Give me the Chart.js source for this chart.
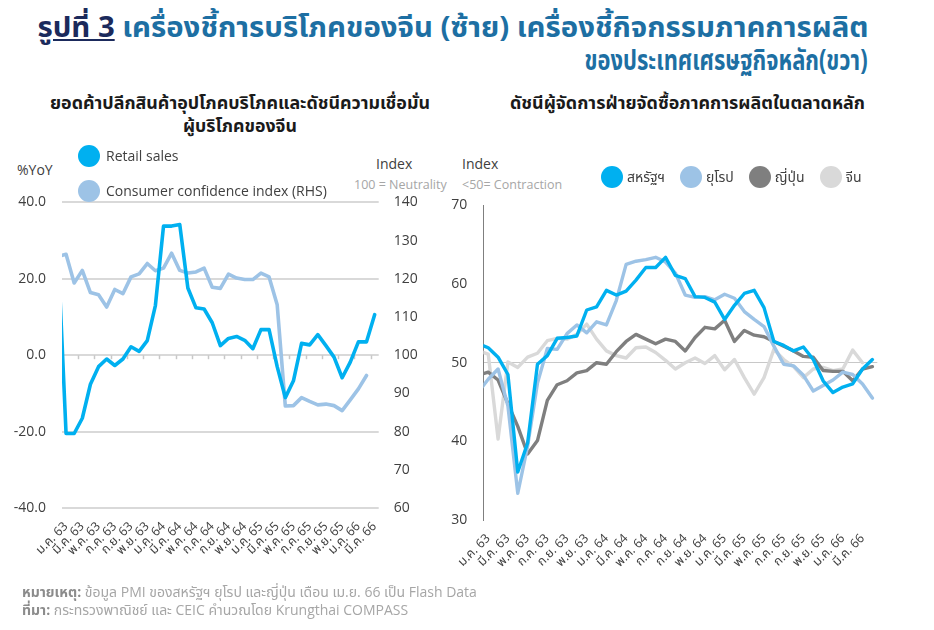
<!DOCTYPE html>
<html><head><meta charset="utf-8">
<script src="https://cdn.jsdelivr.net/npm/chart.js@4.4.1/dist/chart.umd.min.js"></script>
<style>
html,body{margin:0;padding:0;background:#fff;}
body{width:934px;height:630px;position:relative;overflow:hidden;font-family:"Open Sans","Noto Sans Thai","Noto Sans",sans-serif;color:#404040;}
.abs{position:absolute;white-space:nowrap;line-height:1.2;}
.ttl{font-weight:bold;font-size:28px;color:#1d6fa3;}
.sub{font-weight:bold;font-size:17px;color:#1a1a1a;}
.lbl{font-size:14px;color:#404040;}
.note{font-size:12.5px;color:#a6a6a6;}
.dot{display:inline-block;width:22px;height:22px;border-radius:50%;vertical-align:middle;}
.leg{font-size:14px;color:#404040;display:flex;align-items:center;}
.foot{font-size:14px;color:#a6a6a6;}
.foot b{color:#8c8c8c;}
canvas{position:absolute;}
</style></head><body>
<div id="t1" class="abs ttl" style="right:66px;top:10px;"><span style="color:#1b2a5c;text-decoration:underline;">รูปที่ 3</span> เครื่องชี้การบริโภคของจีน (ซ้าย) เครื่องชี้กิจกรรมภาคการผลิต</div>
<div id="t2" class="abs ttl" style="right:66px;top:43px;">ของประเทศเศรษฐกิจหลัก(ขวา)</div>
<div id="s1" class="abs sub" style="left:50px;top:93px;">ยอดค้าปลีกสินค้าอุปโภคบริโภคและดัชนีความเชื่อมั่น</div>
<div id="s2" class="abs sub" style="left:183px;top:116px;">ผู้บริโภคของจีน</div>
<div id="s3" class="abs sub" style="left:510px;top:93px;">ดัชนีผู้จัดการฝ่ายจัดซื้อภาคการผลิตในตลาดหลัก</div>

<div class="abs lbl" style="left:17px;top:162px;">%YoY</div>
<div class="abs lbl" style="left:376px;top:156px;">Index</div>
<div class="abs note" style="left:354px;top:177px;">100 = Neutrality</div>
<div class="abs lbl" style="left:462px;top:156px;">Index</div>
<div class="abs note" style="left:462px;top:177px;">&lt;50= Contraction</div>

<canvas id="c1" width="460" height="412" style="left:0;top:178px;"></canvas>
<canvas id="c2" width="494" height="409" style="left:440px;top:181px;"></canvas>

<div id="legL" class="abs" style="left:78px;top:145px;"></div>
<div id="legR" class="abs" style="left:601px;top:166px;display:flex;"></div>

<div id="f1" class="abs foot" style="left:22px;top:584px;"><b>หมายเหตุ:</b> ข้อมูล PMI ของสหรัฐฯ ยุโรป และญี่ปุ่น เดือน เม.ย. 66 เป็น Flash Data</div>
<div id="f2" class="abs foot" style="left:22px;top:602px;"><b>ที่มา:</b> กระทรวงพาณิชย์ และ CEIC คำนวณโดย Krungthai COMPASS</div>

<script>
// ---- categories (Dec 2019 .. Apr 2023); Dec 2019 lies just outside the visible axis range
const months = [
  'ธ.ค. 62',
  'ม.ค. 63','ก.พ. 63','มี.ค. 63','เม.ย. 63','พ.ค. 63','มิ.ย. 63','ก.ค. 63','ส.ค. 63','ก.ย. 63','ต.ค. 63','พ.ย. 63','ธ.ค. 63',
  'ม.ค. 64','ก.พ. 64','มี.ค. 64','เม.ย. 64','พ.ค. 64','มิ.ย. 64','ก.ค. 64','ส.ค. 64','ก.ย. 64','ต.ค. 64','พ.ย. 64','ธ.ค. 64',
  'ม.ค. 65','ก.พ. 65','มี.ค. 65','เม.ย. 65','พ.ค. 65','มิ.ย. 65','ก.ค. 65','ส.ค. 65','ก.ย. 65','ต.ค. 65','พ.ย. 65','ธ.ค. 65',
  'ม.ค. 66','ก.พ. 66','มี.ค. 66','เม.ย. 66'
];
const firstShown = 'ม.ค. 63';
const lastShownLeft = 'มี.ค. 66';
const lastShownRight = 'เม.ย. 66';

// ---- left chart: China retail sales (%YoY) and consumer confidence (index)
const retailSales = [27.5,
  -20.5,-20.5,-16.5,-7.6,-3.0,-1.0,-2.7,-1.0,2.2,1.0,3.8,13.0,
  33.8,33.8,34.2,17.6,12.4,12.1,8.5,2.5,4.4,4.9,3.9,1.7,
  6.7,6.7,-3.0,-11.1,-6.7,3.1,2.7,5.4,2.5,-0.5,-5.9,-1.8,
  3.5,3.5,10.6];
const consumerConfidence = [125.9,
  126.4,118.9,122.2,116.4,115.8,112.6,117.2,116.1,120.5,121.3,124.0,122.1,
  122.8,126.7,122.2,121.5,121.8,122.8,117.8,117.5,121.2,120.2,119.8,119.8,
  121.5,120.5,113.2,86.7,86.8,88.9,87.9,87.0,87.2,86.8,85.5,88.3,
  91.2,94.7];

// ---- right chart: manufacturing PMI
const pmiUS = [52.4,
  51.9,50.7,48.5,36.1,39.8,49.8,50.9,53.1,53.2,53.4,56.7,57.1,
  59.2,58.6,59.1,60.5,62.1,62.1,63.4,61.1,60.7,58.4,58.3,57.7,
  55.5,57.3,58.8,59.2,57.0,52.7,52.2,51.5,52.0,50.4,47.7,46.2,
  46.9,47.3,49.2,50.4];
const pmiEurope = [46.3,
  47.9,49.2,44.5,33.4,39.4,47.4,51.8,51.7,53.7,54.8,53.8,55.2,
  54.8,57.9,62.5,62.9,63.1,63.4,62.8,61.4,58.6,58.3,58.4,58.0,
  58.7,58.2,56.5,55.5,54.6,52.1,49.8,49.6,48.4,46.4,47.1,47.8,
  48.8,48.5,47.3,45.5];
const pmiJapan = [48.4,
  48.8,47.8,44.8,41.9,38.4,40.1,45.2,47.2,47.7,48.7,49.0,50.0,
  49.8,51.4,52.7,53.6,53.0,52.4,53.0,52.7,51.5,53.2,54.5,54.3,
  55.4,52.7,54.1,53.5,53.3,52.7,52.1,51.5,50.8,50.7,49.0,48.9,
  48.9,47.7,49.2,49.5];
const pmiChina = [51.5,
  51.1,40.3,50.1,49.4,50.7,51.2,52.8,53.1,53.0,53.6,54.9,53.0,
  51.5,50.9,50.6,51.9,52.0,51.3,50.3,49.2,50.0,50.6,49.9,50.9,
  49.1,50.4,48.1,46.0,48.1,51.7,50.4,49.5,48.1,49.2,49.4,49.0,
  49.2,51.6,50.0];

const leftNames = ['Retail sales','Consumer confidence index (RHS)'];
const rightNames = ['สหรัฐฯ','ยุโรป','ญี่ปุ่น','จีน'];
const leftTicks = [-40,-20,0,20,40];
const rightTicks = [60,70,80,90,100,110,120,130,140];
const pmiTicks = [30,40,50,60,70];

const C_BLUE = '#00b0f0', C_LBLUE = '#9dc3e6', C_DGRAY = '#7f7f7f', C_LGRAY = '#d9d9d9';
const FONT = '"Open Sans","Noto Sans Thai","Noto Sans",sans-serif';
Chart.defaults.font.family = FONT;

function everyOther(v){ return (v - 1) % 2 === 0 ? this.getLabelForValue(v) : null; }

const zeroTicks = {
  id:'zeroTicks',
  beforeDatasetsDraw(chart){
    const xs = chart.scales.x, ys = chart.scales.y, ctx = chart.ctx;
    const y0 = ys.getPixelForValue(0);
    ctx.save(); ctx.strokeStyle = '#c8c8c8'; ctx.lineWidth = 1.5;
    for (let v = xs.min + 2; v <= xs.max; v += 2){
      const px = Math.round((xs.getPixelForValue(v-1) + xs.getPixelForValue(v)) / 2) + 0.5;
      ctx.beginPath(); ctx.moveTo(px, y0); ctx.lineTo(px, y0 + 4); ctx.stroke();
    }
    ctx.restore();
  }
};

const lineDefaults = {pointRadius:0, tension:0, borderCapStyle:'round', borderJoinStyle:'round', clip:{left:0,right:6,top:6,bottom:6}};

const xCommon = (maxLabel, h) => ({
  type:'category', min:firstShown, max:maxLabel, offset:true,
  grid:{display:false}, border:{display:false},
  ticks:{autoSkip:false, maxRotation:45, minRotation:45, padding:3, color:'#404040', font:{size:12.5}, callback:everyOther},
  afterFit(s){ s.height = h; }
});

const chartL = new Chart(document.getElementById('c1'), {
  type:'line',
  data:{labels:months, datasets:[
    {label:leftNames[0], data:retailSales, yAxisID:'y', borderColor:C_BLUE, backgroundColor:C_BLUE, borderWidth:3.6, ...lineDefaults},
    {label:leftNames[1], data:consumerConfidence, yAxisID:'y1', borderColor:C_LBLUE, backgroundColor:C_LBLUE, borderWidth:3.6, ...lineDefaults}
  ]},
  options:{
    responsive:false, animation:false, devicePixelRatio:1,
    layout:{padding:{top:0, left:0, right:0, bottom:0}},
    plugins:{legend:{display:false}, tooltip:{enabled:false}},
    scales:{
      x: xCommon(lastShownLeft, 82),
      y:{position:'left', min:leftTicks[0], max:leftTicks[leftTicks.length-1],
         afterBuildTicks(s){ s.ticks = leftTicks.map(v=>({value:v})); },
         grid:{color:'#d9d9d9', lineWidth:2, drawTicks:false}, border:{display:false},
         ticks:{padding:16, color:'#404040', font:{size:14}, callback:v=>v.toFixed(1)},
         afterFit(s){ s.width = 62; }},
      y1:{position:'right', min:rightTicks[0], max:rightTicks[rightTicks.length-1],
         afterBuildTicks(s){ s.ticks = rightTicks.map(v=>({value:v})); },
         grid:{drawOnChartArea:false, drawTicks:false}, border:{display:false},
         ticks:{padding:15, color:'#404040', font:{size:14}},
         afterFit(s){ s.width = 460 - 378.7; }}
    }
  },
  plugins:[zeroTicks]
});

const chartR = new Chart(document.getElementById('c2'), {
  type:'line',
  data:{labels:months, datasets:[
    {label:rightNames[0], data:pmiUS, borderColor:C_BLUE, backgroundColor:C_BLUE, borderWidth:3.4, ...lineDefaults},
    {label:rightNames[1], data:pmiEurope, borderColor:C_LBLUE, backgroundColor:C_LBLUE, borderWidth:3.4, ...lineDefaults},
    {label:rightNames[2], data:pmiJapan, borderColor:C_DGRAY, backgroundColor:C_DGRAY, borderWidth:3.4, ...lineDefaults},
    {label:rightNames[3], data:pmiChina, borderColor:C_LGRAY, backgroundColor:C_LGRAY, borderWidth:3.4, ...lineDefaults}
  ]},
  options:{
    responsive:false, animation:false, devicePixelRatio:1,
    layout:{padding:{top:0, left:0, right:494-437.3, bottom:0}},
    plugins:{legend:{display:false}, tooltip:{enabled:false}},
    scales:{
      x: xCommon(lastShownRight, 70),
      y:{position:'left', min:pmiTicks[0], max:pmiTicks[pmiTicks.length-1],
         afterBuildTicks(s){ s.ticks = pmiTicks.map(v=>({value:v})); },
         grid:{color:(c)=> c.tick && c.tick.value === 50 ? '#c8c8c8' : 'rgba(0,0,0,0)', lineWidth:1, drawTicks:false},
         border:{display:true, color:'#7f7f7f', width:1},
         ticks:{padding:16, color:'#404040', font:{size:14}},
         afterFit(s){ s.width = 43.3; }}
    }
  }
});

// place each canvas so its plot area sits where the reference's does
function placeCanvas(chart, wantTop){
  chart.canvas.style.top = Math.round(wantTop - chart.chartArea.top) + 'px';
}
placeCanvas(chartL, 202.7);
placeCanvas(chartR, 205);

// HTML legends built from the datasets
function legendItem(ds, gap){
  const d = document.createElement('div'); d.className = 'leg';
  d.innerHTML = '<span class="dot" style="background:'+ds.borderColor+'"></span><span style="margin-left:'+gap+'px">'+ds.label+'</span>';
  return d;
}
const legL = document.getElementById('legL');
chartL.data.datasets.forEach((ds,i)=>{ const it = legendItem(ds, 6); it.style.height='22px'; it.style.marginBottom = i===0 ? '13px' : '0'; legL.appendChild(it); });
const legR = document.getElementById('legR');
chartR.data.datasets.forEach((ds,i)=>{ const it = legendItem(ds, 4); it.style.marginRight='15px'; legR.appendChild(it); });

function fit(id, w, origin){
  const el = document.getElementById(id);
  const r = el.getBoundingClientRect().width;
  el.style.transformOrigin = origin; el.style.transform = 'scaleX(' + (w / r) + ')';
}
fit('t1', 831, 'right center'); fit('t2', 283, 'right center');
fit('s1', 380, 'left center'); fit('s2', 114, 'left center'); fit('s3', 355, 'left center');
</script>
</body></html>
